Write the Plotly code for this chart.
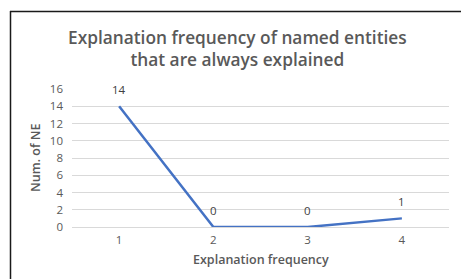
import plotly.graph_objects as go

categories = [1, 2, 3, 4]
values = [14, 0, 0, 1]
y_ticks = [0, 2, 4, 6, 8, 10, 12, 14, 16]

title_text = "Explanation frequency of named entities<br>that are always explained"
x_title = "Explanation frequency"
y_title = "Num. of NE"

FONT = "Open Sans, Noto Sans, sans-serif"
GREY = "#595959"

fig = go.Figure()
fig.add_trace(go.Scatter(
    x=categories, y=values, mode="lines",
    line=dict(color="#4472C4", width=2.5),
    hoverinfo="x+y", showlegend=False,
))

annotations = []
for c, v in zip(categories, values):
    annotations.append(dict(
        x=c, y=v, xref="x", yref="y", text=str(v), showarrow=False,
        xanchor="center", yanchor="middle",
        yshift=17, font=dict(family=FONT, size=11.5, color="#404040"),
    ))

W, H = 461, 279
ml, mr, mt, mb = 72, 12, 89, 52
pw, ph = W - ml - mr, H - mt - mb

def px_x(p):
    return (p - ml) / pw

def px_y(p):
    return 1 - (p - mt) / ph

annotations.append(dict(
    x=px_x(260.5), y=px_y(259), xref="paper", yref="paper",
    xanchor="center", yanchor="middle",
    text=x_title, showarrow=False,
    font=dict(family=FONT, size=12.5, color=GREY, weight=600),
))
annotations.append(dict(
    x=px_x(35), y=px_y(158), xref="paper", yref="paper",
    xanchor="center", yanchor="middle",
    text=y_title, showarrow=False, textangle=-90,
    font=dict(family=FONT, size=12.5, color=GREY, weight=600),
))
annotations.append(dict(
    x=px_x(237), y=px_y(48.5), xref="paper", yref="paper",
    xanchor="center", yanchor="middle",
    text=title_text, showarrow=False, align="center",
    font=dict(family=FONT, size=17.3, color=GREY, weight=600),
))

shapes = [
    dict(type="line", xref="paper", yref="paper",
         x0=px_x(10), x1=px_x(470), y0=px_y(11.5), y1=px_y(11.5),
         line=dict(color="#1a1a1a", width=1.5)),
    dict(type="line", xref="paper", yref="paper",
         x0=px_x(10.5), x1=px_x(10.5), y0=px_y(11), y1=px_y(290),
         line=dict(color="#1a1a1a", width=1.5)),
]

fig.update_layout(
    width=W, height=H,
    margin=dict(l=ml, r=mr, t=mt, b=mb),
    paper_bgcolor="white", plot_bgcolor="white",
    font=dict(family=FONT, size=11, color=GREY),
    annotations=annotations,
    shapes=shapes,
    xaxis=dict(
        range=[0.5, 4.5], tickmode="array", tickvals=categories,
        ticktext=[str(c) for c in categories],
        showgrid=False, zeroline=False, showline=False, ticks="",
        tickfont=dict(family=FONT, size=11.5, color=GREY),
        ticklabelstandoff=4, fixedrange=True,
    ),
    yaxis=dict(
        range=[0, 16], tickmode="array", tickvals=y_ticks,
        showgrid=True, gridcolor="#d9d9d9", gridwidth=1,
        zeroline=True, zerolinecolor="#d9d9d9", zerolinewidth=1,
        showline=False, ticks="",
        tickfont=dict(family=FONT, size=11.5, color=GREY),
        ticklabelstandoff=8, fixedrange=True,
    ),
)

fig.write_html(
    "out.html",
    config={"displayModeBar": False},
    post_script="document.body.style.margin='0';document.body.style.overflow='hidden';",
)
